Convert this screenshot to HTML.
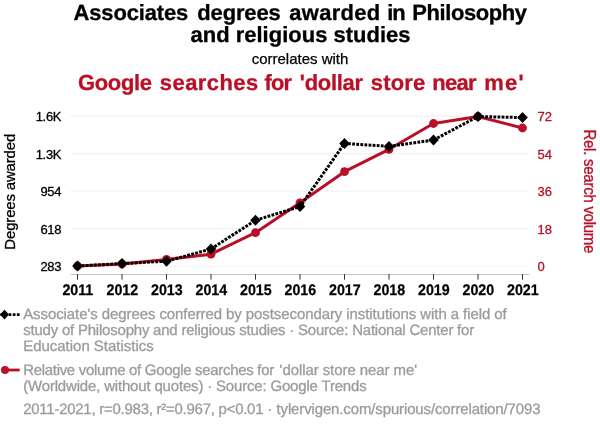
<!DOCTYPE html>
<html><head><meta charset="utf-8">
<title>Spurious correlation</title>
<style>
html,body{margin:0;padding:0;background:#fff;}
svg{display:block;font-family:"Liberation Sans",sans-serif;will-change:transform;}
</style></head><body>
<svg width="600" height="430" viewBox="0 0 600 430">
<rect width="600" height="430" fill="#fff"/>
<!-- titles -->
<text transform="translate(0,20) skewX(0.2)" font-size="22" font-weight="bold" fill="#000" stroke="#000" stroke-width="0.3"><tspan x="73.55" textLength="114.75" lengthAdjust="spacing">Associates</tspan> <tspan x="197.30" textLength="83.50" lengthAdjust="spacing">degrees</tspan> <tspan x="289.35" textLength="90.95" lengthAdjust="spacing">awarded</tspan> <tspan x="387.30" textLength="18.50" lengthAdjust="spacing">in</tspan> <tspan x="412.38" textLength="114.62" lengthAdjust="spacing">Philosophy</tspan></text>
<text transform="translate(300.5,42) skewX(0.2)" text-anchor="middle" font-size="22" font-weight="bold" fill="#000" stroke="#000" stroke-width="0.3">and religious studies</text>
<text x="300" y="64" text-anchor="middle" font-size="15" fill="#000" stroke="#000" stroke-width="0.25">correlates with</text>
<text transform="translate(0,90) skewX(0.2)" font-size="22" font-weight="bold" fill="#ba1027" stroke="#ba1027" stroke-width="0.3"><tspan x="78.05" textLength="74.00" lengthAdjust="spacing">Google</tspan> <tspan x="159.80" textLength="98.50" lengthAdjust="spacing">searches</tspan> <tspan x="264.60" textLength="27.40" lengthAdjust="spacing">for</tspan> <tspan x="299.80" textLength="63.20" lengthAdjust="spacing">'dollar</tspan> <tspan x="370.76" textLength="54.58" lengthAdjust="spacing">store</tspan> <tspan x="432.34" textLength="44.20" lengthAdjust="spacing">near</tspan> <tspan x="484.34" textLength="39.50" lengthAdjust="spacing">me'</tspan></text>
<!-- grid -->
<g stroke="#efefef" stroke-width="1">
<line x1="70.5" x2="528" y1="116.1" y2="116.1"/>
<line x1="70.5" x2="528" y1="153.6" y2="153.6"/>
<line x1="70.5" x2="528" y1="191.1" y2="191.1"/>
<line x1="70.5" x2="528" y1="228.6" y2="228.6"/>
<line x1="70.5" x2="528" y1="266.1" y2="266.1"/>
</g>
<line x1="70.5" x2="529.5" y1="274.5" y2="274.5" stroke="#c4c4c4" stroke-width="1"/>
<g stroke="#333" stroke-width="1">
<line x1="77.5" x2="77.5" y1="274" y2="279.7"/>
<line x1="122" x2="122" y1="274" y2="279.7"/>
<line x1="166.5" x2="166.5" y1="274" y2="279.7"/>
<line x1="211" x2="211" y1="274" y2="279.7"/>
<line x1="255.5" x2="255.5" y1="274" y2="279.7"/>
<line x1="300" x2="300" y1="274" y2="279.7"/>
<line x1="344.5" x2="344.5" y1="274" y2="279.7"/>
<line x1="389" x2="389" y1="274" y2="279.7"/>
<line x1="433.5" x2="433.5" y1="274" y2="279.7"/>
<line x1="478" x2="478" y1="274" y2="279.7"/>
<line x1="522.5" x2="522.5" y1="274" y2="279.7"/>
</g>
<!-- y tick labels -->
<g font-size="13" fill="#000" stroke="#000" stroke-width="0.3" text-anchor="end" letter-spacing="-0.3">
<text x="61.2" y="121">1.6K</text>
<text x="61.2" y="158.5">1.3K</text>
<text x="61.2" y="196">954</text>
<text x="61.2" y="233.5">618</text>
<text x="61.2" y="271">283</text>
</g>
<g font-size="13" fill="#ba1027" stroke="#ba1027" stroke-width="0.3" text-anchor="start">
<text x="537.6" y="121">72</text>
<text x="537.6" y="158.5">54</text>
<text x="537.6" y="196">36</text>
<text x="537.6" y="233.5">18</text>
<text x="537.6" y="271">0</text>
</g>
<!-- x labels -->
<g font-size="15.3" font-weight="bold" fill="#000" stroke="#000" stroke-width="0.25" text-anchor="middle" letter-spacing="0">
<text transform="translate(77.8,295) rotate(0.1) scale(0.93,1)">2011</text>
<text transform="translate(122.3,295) rotate(0.1) scale(0.93,1)">2012</text>
<text transform="translate(166.8,295) rotate(0.1) scale(0.93,1)">2013</text>
<text transform="translate(211.3,295) rotate(0.1) scale(0.93,1)">2014</text>
<text transform="translate(255.8,295) rotate(0.1) scale(0.93,1)">2015</text>
<text transform="translate(300.3,295) rotate(0.1) scale(0.93,1)">2016</text>
<text transform="translate(344.8,295) rotate(0.1) scale(0.93,1)">2017</text>
<text transform="translate(389.3,295) rotate(0.1) scale(0.93,1)">2018</text>
<text transform="translate(433.8,295) rotate(0.1) scale(0.93,1)">2019</text>
<text transform="translate(478.3,295) rotate(0.1) scale(0.93,1)">2020</text>
<text transform="translate(522.8,295) rotate(0.1) scale(0.93,1)">2021</text>
</g>
<!-- axis titles -->
<text transform="translate(15.2,191.8) rotate(-90)" text-anchor="middle" font-size="15" letter-spacing="-0.18" fill="#000" stroke="#000" stroke-width="0.3">Degrees awarded</text>
<text transform="translate(583.7,191.3) rotate(90) scale(1,1.07)" text-anchor="middle" font-size="15" letter-spacing="-0.25" fill="#ba1027" stroke="#ba1027" stroke-width="0.3">Rel. search volume</text>
<!-- red series -->
<polyline fill="none" stroke="#ba1027" stroke-width="3" stroke-linejoin="round" points="77.5,266 122,264 166.5,259.4 211,254.2 255.5,232.7 300,202.8 344.5,171.7 389,149.3 433.5,123.5 478,116.5 522.5,128"/>
<g fill="#ba1027"><circle cx="77.5" cy="266" r="4.400"/><circle cx="122" cy="264" r="4.400"/><circle cx="166.5" cy="259.4" r="4.400"/><circle cx="211" cy="254.2" r="4.400"/><circle cx="255.5" cy="232.7" r="4.400"/><circle cx="300" cy="202.8" r="4.400"/><circle cx="344.5" cy="171.7" r="4.400"/><circle cx="389" cy="149.3" r="4.400"/><circle cx="433.5" cy="123.5" r="4.400"/><circle cx="478" cy="116.5" r="4.400"/><circle cx="522.5" cy="128" r="4.400"/></g>
<!-- black series -->
<polyline fill="none" stroke="#000" stroke-width="3" stroke-dasharray="2.8,1.3" points="77.5,266 122,263.6 166.5,261.2 211,249 255.5,220.2 300,206.6 344.5,143.4 389,146.4 433.5,140 478,116.5 522.5,117.6"/>
<g fill="#000"><path d="M77.5 260.5l5.3 5.5l-5.3 5.5l-5.3 -5.5z"/><path d="M122 258.1l5.3 5.5l-5.3 5.5l-5.3 -5.5z"/><path d="M166.5 255.7l5.3 5.5l-5.3 5.5l-5.3 -5.5z"/><path d="M211 243.5l5.3 5.5l-5.3 5.5l-5.3 -5.5z"/><path d="M255.5 214.7l5.3 5.5l-5.3 5.5l-5.3 -5.5z"/><path d="M300 201.1l5.3 5.5l-5.3 5.5l-5.3 -5.5z"/><path d="M344.5 137.9l5.3 5.5l-5.3 5.5l-5.3 -5.5z"/><path d="M389 140.9l5.3 5.5l-5.3 5.5l-5.3 -5.5z"/><path d="M433.5 134.5l5.3 5.5l-5.3 5.5l-5.3 -5.5z"/><path d="M478 111l5.3 5.5l-5.3 5.5l-5.3 -5.5z"/><path d="M522.5 112.1l5.3 5.5l-5.3 5.5l-5.3 -5.5z"/></g>
<!-- legend -->
<g font-size="15" fill="#9b9b9b" stroke="#9b9b9b" stroke-width="0.3">
<text transform="translate(23.2,318.9) skewX(0.2)" textLength="483.5" lengthAdjust="spacing">Associate's degrees conferred by postsecondary institutions with a field of</text>
<text transform="translate(23.2,334.9) skewX(0.2)" textLength="451" lengthAdjust="spacing">study of Philosophy and religious studies · Source: National Center for</text>
<text transform="translate(23.2,350.9) skewX(0.2)" textLength="130.5" lengthAdjust="spacing">Education Statistics</text>
<text transform="translate(23.2,374.9) skewX(0.2)" textLength="251" lengthAdjust="spacing">Relative volume of Google searches for</text>
<text transform="translate(279.6,374.9) skewX(0.2)" textLength="137.5" lengthAdjust="spacing">'dollar store near me'</text>
<text transform="translate(23.2,390.9) skewX(0.2)" textLength="343.5" lengthAdjust="spacing">(Worldwide, without quotes) · Source: Google Trends</text>
<text transform="translate(23.2,414) skewX(0.2)" textLength="249" lengthAdjust="spacing">2011-2021, r=0.983, r²=0.967, p&lt;0.01 ·</text>
<text transform="translate(276.5,414) skewX(0.2)" textLength="264" lengthAdjust="spacing">tylervigen.com/spurious/correlation/7093</text>
</g>
<line x1="0.5" x2="19.7" y1="314.600" y2="314.600" stroke="#000" stroke-width="2.800" stroke-dasharray="2.7,1.4"/>
<path d="M4.5 309.800l4.5 4.8l-4.5 4.8l-4.5 -4.8z" fill="#000"/>
<line x1="4" x2="19.7" y1="370" y2="370" stroke="#ba1027" stroke-width="2.800"/>
<circle cx="5" cy="370" r="4" fill="#ba1027"/>
</svg>
</body></html>
